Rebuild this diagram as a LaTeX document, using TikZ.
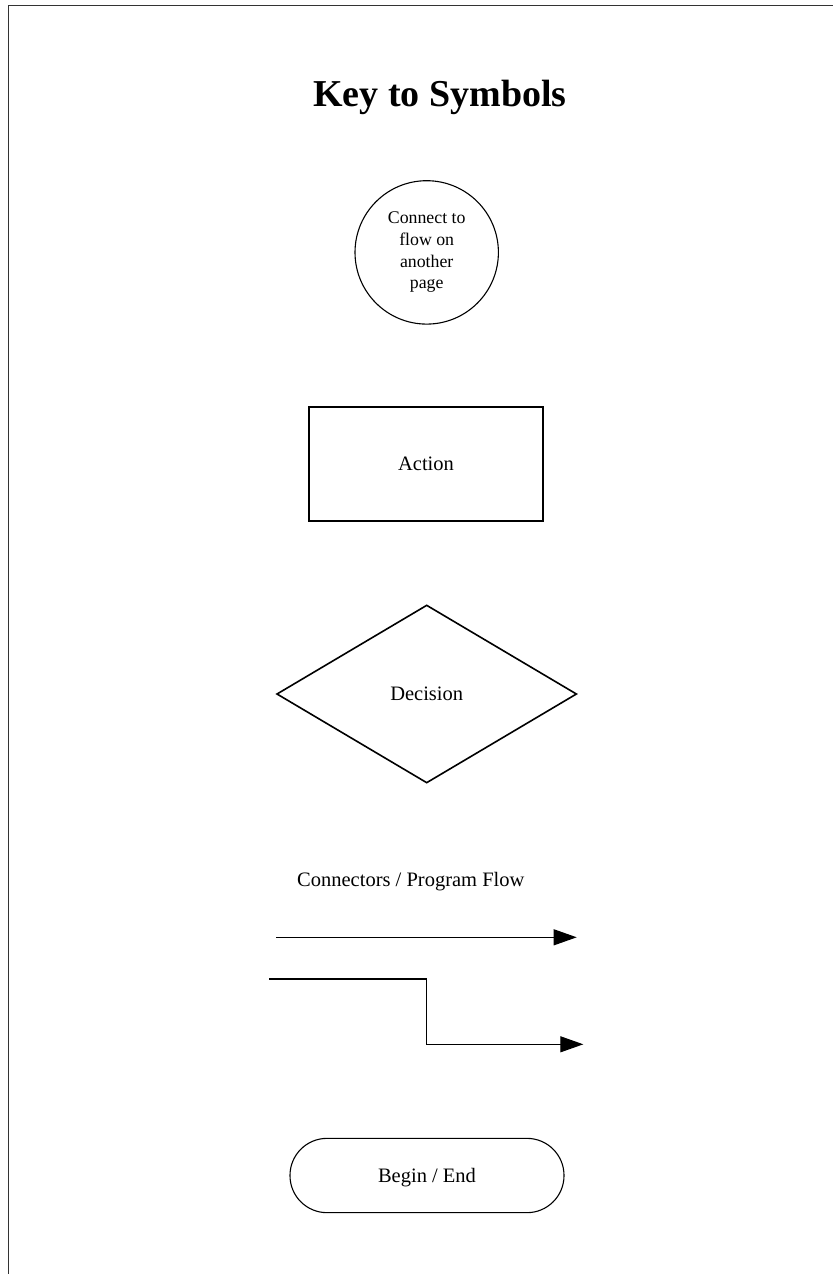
\documentclass[tikz,border=0pt]{standalone}
\usepackage{fontspec}
\setmainfont{Liberation Serif}
\usetikzlibrary{arrows.meta,shapes.geometric}
\begin{document}
\begin{tikzpicture}[x=1pt,y=-1pt,
  shapeline/.style={draw=black,line width=1.1pt},
  label/.style={font=\fontsize{20.5}{24}\selectfont},
  flowline/.style={draw=black,line width=1.1pt,-{Triangle[length=23pt,width=16pt]}}]
  \useasboundingbox (0,0) rectangle (833,1274);
  % page frame (open at the right and bottom edges)
  \draw[line width=1.2pt,black!80] (8.5,1274) -- (8.5,5.5) -- (833,5.5);

  % heading
  \node[anchor=base,inner sep=0,font=\fontsize{38}{40}\selectfont\bfseries] (title) at (440,106) {Key to Symbols};

  % off-page connector
  \node[shapeline,circle,minimum size=143.4pt,inner sep=0,align=center,
        font=\fontsize{17.8}{21.7}\selectfont] (conn) at (426.7,252.4)
        {Connect to\\flow on\\another\\page};

  % action box
  \node[shapeline,rectangle,minimum width=234pt,minimum height=114pt,inner sep=0,label] (act) at (426,464) {Action};

  % decision diamond
  \node[draw=black,line width=1.6pt,diamond,minimum width=300pt,minimum height=178pt,aspect=1.685,inner sep=0,label] (dec) at (426.7,694) {Decision};

  % connectors
  \node[anchor=base west,inner sep=0,label] (flowtxt) at (297,886) {Connectors / Program Flow};
  \coordinate (a1) at (276,937.3);
  \coordinate (a2) at (576.7,937.3);
  \draw[flowline] (a1) -- (a2);
  \coordinate (b1) at (269,979);
  \coordinate (bk) at (426.7,979);
  \coordinate (b2) at (583.3,1044.3);
  \draw[flowline] (b1) -- (bk) |- (b2);

  % terminator
  \node[shapeline,rectangle,rounded corners=37pt,minimum width=274pt,minimum height=74.3pt,inner sep=0,text depth=0pt,label] (term) at (427,1175.5) {Begin / End};
\end{tikzpicture}
\end{document}
